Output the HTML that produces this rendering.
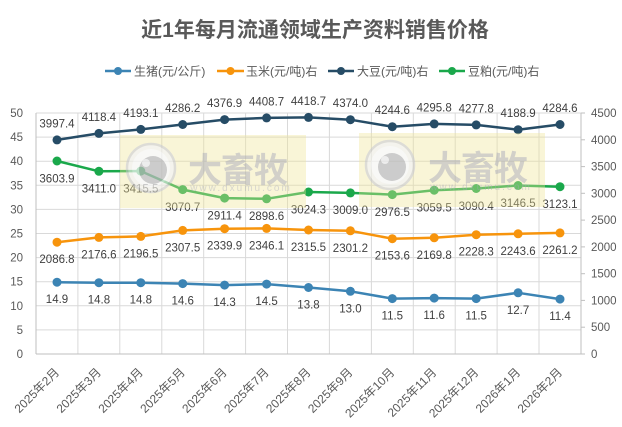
<!DOCTYPE html>
<html><head><meta charset="utf-8"><style>
html,body{margin:0;padding:0;background:#fff;}
svg{display:block;}
text{font-family:"Liberation Sans","Noto Sans CJK SC",sans-serif;}
</style></head><body>
<svg width="622" height="427" viewBox="0 0 622 427" xmlns="http://www.w3.org/2000/svg">
<rect width="622" height="427" fill="#fff"/>
<text x="315" y="37" text-anchor="middle" font-size="21" font-weight="bold" fill="#595959">近1年每月流通领域生产资料销售价格</text>

<!-- legend -->
<g font-size="12" fill="#595959">
<line x1="105" y1="71" x2="131" y2="71" stroke="#3c84b4" stroke-width="2.5"/><circle cx="118" cy="71" r="4" fill="#3c84b4"/>
<text x="134" y="75.5">生猪(元/公斤)</text>
<line x1="217" y1="71" x2="244" y2="71" stroke="#f7940c" stroke-width="2.5"/><circle cx="230.5" cy="71" r="4" fill="#f7940c"/>
<text x="246" y="75.5">玉米(元/吨)右</text>
<line x1="328" y1="71" x2="354" y2="71" stroke="#264c66" stroke-width="2.5"/><circle cx="341" cy="71" r="4" fill="#264c66"/>
<text x="357" y="75.5">大豆(元/吨)右</text>
<line x1="439" y1="71" x2="465" y2="71" stroke="#1aa84b" stroke-width="2.5"/><circle cx="452" cy="71" r="4" fill="#1aa84b"/>
<text x="468" y="75.5">豆粕(元/吨)右</text>
</g>

<!-- gridlines -->
<g stroke="#d9d9d9" stroke-width="1">
<line x1="36" x2="581" y1="329.9" y2="329.9"/>
<line x1="36" x2="581" y1="305.8" y2="305.8"/>
<line x1="36" x2="581" y1="281.7" y2="281.7"/>
<line x1="36" x2="581" y1="257.6" y2="257.6"/>
<line x1="36" x2="581" y1="233.5" y2="233.5"/>
<line x1="36" x2="581" y1="209.4" y2="209.4"/>
<line x1="36" x2="581" y1="185.3" y2="185.3"/>
<line x1="36" x2="581" y1="161.2" y2="161.2"/>
<line x1="36" x2="581" y1="137.1" y2="137.1"/>
<line x1="36" x2="581" y1="113" y2="113"/>
<line y1="113" y2="354" x1="77.9" x2="77.9"/>
<line y1="113" y2="354" x1="119.8" x2="119.8"/>
<line y1="113" y2="354" x1="161.8" x2="161.8"/>
<line y1="113" y2="354" x1="203.7" x2="203.7"/>
<line y1="113" y2="354" x1="245.6" x2="245.6"/>
<line y1="113" y2="354" x1="287.5" x2="287.5"/>
<line y1="113" y2="354" x1="329.4" x2="329.4"/>
<line y1="113" y2="354" x1="371.4" x2="371.4"/>
<line y1="113" y2="354" x1="413.3" x2="413.3"/>
<line y1="113" y2="354" x1="455.2" x2="455.2"/>
<line y1="113" y2="354" x1="497.1" x2="497.1"/>
<line y1="113" y2="354" x1="539" x2="539"/>
</g>
<!-- axes -->
<g stroke="#bfbfbf" stroke-width="1">
<line x1="36" y1="113" x2="36" y2="354"/>
<line x1="36" y1="354" x2="581" y2="354"/>
<line x1="581" y1="113" x2="581" y2="354"/>
<line x1="581" x2="585" y1="354" y2="354"/>
<line x1="581" x2="585" y1="327.2" y2="327.2"/>
<line x1="581" x2="585" y1="300.4" y2="300.4"/>
<line x1="581" x2="585" y1="273.7" y2="273.7"/>
<line x1="581" x2="585" y1="246.9" y2="246.9"/>
<line x1="581" x2="585" y1="220.1" y2="220.1"/>
<line x1="581" x2="585" y1="193.3" y2="193.3"/>
<line x1="581" x2="585" y1="166.6" y2="166.6"/>
<line x1="581" x2="585" y1="139.8" y2="139.8"/>
<line x1="581" x2="585" y1="113" y2="113"/>
</g>

<!-- left axis labels -->
<g font-size="11.5" fill="#595959" text-anchor="end">
<text x="23" y="358">0</text>
<text x="23" y="333.9">5</text>
<text x="23" y="309.8">10</text>
<text x="23" y="285.7">15</text>
<text x="23" y="261.6">20</text>
<text x="23" y="237.5">25</text>
<text x="23" y="213.4">30</text>
<text x="23" y="189.3">35</text>
<text x="23" y="165.2">40</text>
<text x="23" y="141.1">45</text>
<text x="23" y="117">50</text>
</g>
<!-- right axis labels -->
<g font-size="11.5" fill="#595959" text-anchor="start">
<text x="591" y="358">0</text>
<text x="591" y="331.2">500</text>
<text x="591" y="304.4">1000</text>
<text x="591" y="277.7">1500</text>
<text x="591" y="250.9">2000</text>
<text x="591" y="224.1">2500</text>
<text x="591" y="197.3">3000</text>
<text x="591" y="170.6">3500</text>
<text x="591" y="143.8">4000</text>
<text x="591" y="117">4500</text>
</g>

<!-- x labels -->
<g font-size="12" fill="#595959" text-anchor="end">
<text transform="translate(60,373) rotate(-45)">2025年2月</text>
<text transform="translate(101.9,373) rotate(-45)">2025年3月</text>
<text transform="translate(143.8,373) rotate(-45)">2025年4月</text>
<text transform="translate(185.7,373) rotate(-45)">2025年5月</text>
<text transform="translate(227.6,373) rotate(-45)">2025年6月</text>
<text transform="translate(269.6,373) rotate(-45)">2025年7月</text>
<text transform="translate(311.5,373) rotate(-45)">2025年8月</text>
<text transform="translate(353.4,373) rotate(-45)">2025年9月</text>
<text transform="translate(395.3,373) rotate(-45)">2025年10月</text>
<text transform="translate(437.2,373) rotate(-45)">2025年11月</text>
<text transform="translate(479.2,373) rotate(-45)">2025年12月</text>
<text transform="translate(521.1,373) rotate(-45)">2026年1月</text>
<text transform="translate(563,373) rotate(-45)">2026年2月</text>
</g>

<!-- series -->
<g fill="none" stroke-width="2.5" stroke-linejoin="round">
<polyline stroke="#3c84b4" points="57,282.2 98.9,282.7 140.8,282.7 182.7,283.6 224.6,285.1 266.6,284.1 308.5,287.5 350.4,291.3 392.3,298.6 434.2,298.1 476.2,298.6 518.1,292.8 560,299.1"/>
<polyline stroke="#f7940c" points="57,242.2 98.9,237.4 140.8,236.4 182.7,230.4 224.6,228.7 266.6,228.4 308.5,230 350.4,230.8 392.3,238.7 434.2,237.8 476.2,234.7 518.1,233.8 560,232.9"/>
<polyline stroke="#264c66" points="57,139.9 98.9,133.4 140.8,129.4 182.7,124.5 224.6,119.6 266.6,117.9 308.5,117.4 350.4,119.7 392.3,126.7 434.2,123.9 476.2,124.9 518.1,129.7 560,124.5"/>
<polyline stroke="#1aa84b" points="57,161 98.9,171.3 140.8,171.1 182.7,189.6 224.6,198.1 266.6,198.8 308.5,192 350.4,192.9 392.3,194.6 434.2,190.2 476.2,188.5 518.1,185.5 560,186.7"/>
</g>
<g fill="#3c84b4">
<circle cx="57" cy="282.2" r="4.5"/><circle cx="98.9" cy="282.7" r="4.5"/><circle cx="140.8" cy="282.7" r="4.5"/><circle cx="182.7" cy="283.6" r="4.5"/><circle cx="224.6" cy="285.1" r="4.5"/><circle cx="266.6" cy="284.1" r="4.5"/><circle cx="308.5" cy="287.5" r="4.5"/><circle cx="350.4" cy="291.3" r="4.5"/><circle cx="392.3" cy="298.6" r="4.5"/><circle cx="434.2" cy="298.1" r="4.5"/><circle cx="476.2" cy="298.6" r="4.5"/><circle cx="518.1" cy="292.8" r="4.5"/><circle cx="560" cy="299.1" r="4.5"/>
</g>
<g fill="#f7940c">
<circle cx="57" cy="242.2" r="4.5"/><circle cx="98.9" cy="237.4" r="4.5"/><circle cx="140.8" cy="236.4" r="4.5"/><circle cx="182.7" cy="230.4" r="4.5"/><circle cx="224.6" cy="228.7" r="4.5"/><circle cx="266.6" cy="228.4" r="4.5"/><circle cx="308.5" cy="230" r="4.5"/><circle cx="350.4" cy="230.8" r="4.5"/><circle cx="392.3" cy="238.7" r="4.5"/><circle cx="434.2" cy="237.8" r="4.5"/><circle cx="476.2" cy="234.7" r="4.5"/><circle cx="518.1" cy="233.8" r="4.5"/><circle cx="560" cy="232.9" r="4.5"/>
</g>
<g fill="#264c66">
<circle cx="57" cy="139.9" r="4.5"/><circle cx="98.9" cy="133.4" r="4.5"/><circle cx="140.8" cy="129.4" r="4.5"/><circle cx="182.7" cy="124.5" r="4.5"/><circle cx="224.6" cy="119.6" r="4.5"/><circle cx="266.6" cy="117.9" r="4.5"/><circle cx="308.5" cy="117.4" r="4.5"/><circle cx="350.4" cy="119.7" r="4.5"/><circle cx="392.3" cy="126.7" r="4.5"/><circle cx="434.2" cy="123.9" r="4.5"/><circle cx="476.2" cy="124.9" r="4.5"/><circle cx="518.1" cy="129.7" r="4.5"/><circle cx="560" cy="124.5" r="4.5"/>
</g>
<g fill="#1aa84b">
<circle cx="57" cy="161" r="4.5"/><circle cx="98.9" cy="171.3" r="4.5"/><circle cx="140.8" cy="171.1" r="4.5"/><circle cx="182.7" cy="189.6" r="4.5"/><circle cx="224.6" cy="198.1" r="4.5"/><circle cx="266.6" cy="198.8" r="4.5"/><circle cx="308.5" cy="192" r="4.5"/><circle cx="350.4" cy="192.9" r="4.5"/><circle cx="392.3" cy="194.6" r="4.5"/><circle cx="434.2" cy="190.2" r="4.5"/><circle cx="476.2" cy="188.5" r="4.5"/><circle cx="518.1" cy="185.5" r="4.5"/><circle cx="560" cy="186.7" r="4.5"/>
</g>

<!-- data labels -->
<g font-size="11.5" fill="#404040" text-anchor="middle">
<text x="57" y="303.2">14.9</text><text x="98.9" y="303.7">14.8</text><text x="140.8" y="303.7">14.8</text><text x="182.7" y="304.6">14.6</text><text x="224.6" y="306.1">14.3</text><text x="266.6" y="305.1">14.5</text><text x="308.5" y="308.5">13.8</text><text x="350.4" y="312.3">13.0</text><text x="392.3" y="319.6">11.5</text><text x="434.2" y="319.1">11.6</text><text x="476.2" y="319.6">11.5</text><text x="518.1" y="313.8">12.7</text><text x="560" y="320.1">11.4</text>
<text x="57" y="263.2">2086.8</text><text x="98.9" y="258.4">2176.6</text><text x="140.8" y="257.4">2196.5</text><text x="182.7" y="251.4">2307.5</text><text x="224.6" y="249.7">2339.9</text><text x="266.6" y="249.4">2346.1</text><text x="308.5" y="251">2315.5</text><text x="350.4" y="251.8">2301.2</text><text x="392.3" y="259.7">2153.6</text><text x="434.2" y="258.8">2169.8</text><text x="476.2" y="255.7">2228.3</text><text x="518.1" y="254.8">2243.6</text><text x="560" y="253.9">2261.2</text>
<text x="57" y="127.4">3997.4</text><text x="98.9" y="120.9">4118.4</text><text x="140.8" y="116.9">4193.1</text><text x="182.7" y="112">4286.2</text><text x="224.6" y="107.1">4376.9</text><text x="266.6" y="105.4">4408.7</text><text x="308.5" y="104.9">4418.7</text><text x="350.4" y="107.2">4374.0</text><text x="392.3" y="114.2">4244.6</text><text x="434.2" y="111.4">4295.8</text><text x="476.2" y="112.4">4277.8</text><text x="518.1" y="117.2">4188.9</text><text x="560" y="112">4284.6</text>
<text x="57" y="182.3">3603.9</text><text x="98.9" y="192.6">3411.0</text><text x="140.8" y="192.4">3415.5</text><text x="182.7" y="210.9">3070.7</text><text x="224.6" y="219.4">2911.4</text><text x="266.6" y="220.1">2898.6</text><text x="308.5" y="213.3">3024.3</text><text x="350.4" y="214.2">3009.0</text><text x="392.3" y="215.9">2976.5</text><text x="434.2" y="211.5">3059.5</text><text x="476.2" y="209.8">3090.4</text><text x="518.1" y="206.8">3146.5</text><text x="560" y="208">3123.1</text>
</g>

<!-- watermarks -->
<g opacity="0.75">
<rect x="120" y="135" width="186" height="73" fill="rgb(240,230,150)" opacity="0.5"/>
<circle cx="151" cy="168" r="24" fill="#eeeeee" stroke="#c8c8c8" stroke-width="2.5" opacity="0.8"/>
<circle cx="151" cy="168" r="19" fill="#f8f8f8" opacity="0.8"/>
<circle cx="153" cy="170" r="14" fill="#a8a8a8" opacity="0.75"/>
<circle cx="146" cy="163" r="4" fill="#ececec" opacity="0.9"/>
<text x="188" y="182" font-size="34" font-weight="bold" fill="#b0b0b0" opacity="0.75" letter-spacing="-1" style="font-family:'Noto Sans CJK SC',sans-serif">大畜牧</text>
<text x="241" y="191" font-size="10" fill="#b5b5b5" opacity="0.7" text-anchor="middle" letter-spacing="2">www.dxumu.com</text>
</g>
<g opacity="0.75">
<rect x="359" y="133" width="186" height="74" fill="rgb(240,230,150)" opacity="0.5"/>
<circle cx="390" cy="165" r="24" fill="#eeeeee" stroke="#c8c8c8" stroke-width="2.5" opacity="0.8"/>
<circle cx="390" cy="165" r="19" fill="#f8f8f8" opacity="0.8"/>
<circle cx="392" cy="167" r="14" fill="#a8a8a8" opacity="0.75"/>
<circle cx="385" cy="160" r="4" fill="#ececec" opacity="0.9"/>
<text x="428" y="180" font-size="34" font-weight="bold" fill="#b0b0b0" opacity="0.75" letter-spacing="-1" style="font-family:'Noto Sans CJK SC',sans-serif">大畜牧</text>
<text x="481" y="190" font-size="10" fill="#b5b5b5" opacity="0.7" text-anchor="middle" letter-spacing="2">www.dxumu.com</text>
</g>
</svg>
</body></html>
